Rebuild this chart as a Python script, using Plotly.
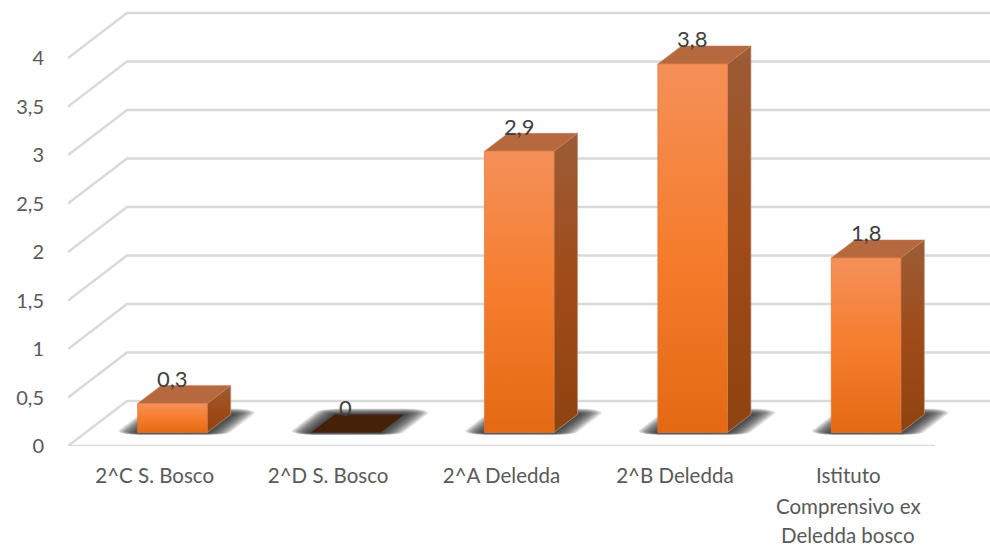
import math
import plotly.graph_objects as go

# ---- data ----
categories = ["2^C S. Bosco", "2^D S. Bosco", "2^A Deledda", "2^B Deledda", "Istituto"]
extra_label_lines = [(4, 1, "Comprensivo ex"), (4, 2, "Deledda bosco")]
values = [0.3, 0, 2.9, 3.8, 1.8]
value_labels = ["0,3", "0", "2,9", "3,8", "1,8"]
tick_values = [0, 0.5, 1, 1.5, 2, 2.5, 3, 3.5, 4]
tick_labels = ["0", "0,5", "1", "1,5", "2", "2,5", "3", "3,5", "4"]

# ---- oblique projection, in axis units ----
W, H = 990, 546
LEFT, FLOOR = 68, 446
PX_X, PX_Y = 173.4, 97.0            # pixels per slot / per value unit
DX, DY = 59 / PX_X, 45 / PX_Y       # shift of full floor depth
D0, D1 = 0.30, 0.70                 # bar depth span
HALF = 34.75 / PX_X
X_MAX = (W - LEFT) / PX_X
FONT = "Lato"
GRID = "#D9D9D9"


def pt(x, v, d):
    return x + d * DX, v + d * DY


def poly(points, **kw):
    xs = [p[0] for p in points] + [points[0][0]]
    ys = [p[1] for p in points] + [points[0][1]]
    return go.Scatter(x=xs, y=ys, mode="lines", fill="toself", hoverinfo="skip", showlegend=False, **kw)


def hull(points):
    pts = sorted(set(points))
    def half(seq):
        out = []
        for p in seq:
            while len(out) > 1 and (out[-1][0] - out[-2][0]) * (p[1] - out[-2][1]) - (out[-1][1] - out[-2][1]) * (p[0] - out[-2][0]) <= 0:
                out.pop()
            out.append(p)
        return out[:-1]
    return half(pts) + half(pts[::-1])


fig = go.Figure()

# gridlines: wall + side wall
for v in tick_values:
    p0 = pt(0, v, 0)
    p1 = pt(0, v, 1)
    fig.add_trace(go.Scatter(x=[p0[0], p1[0], X_MAX + 1], y=[p0[1], p1[1], p1[1]], mode="lines",
                             line=dict(color=GRID, width=2.4), hoverinfo="skip", showlegend=False))
# front floor edge
fig.add_trace(go.Scatter(x=[0, 5], y=[0, 0], mode="lines", line=dict(color=GRID, width=2.6),
                         hoverinfo="skip", showlegend=False))

# soft floor shadows: stacked outsets of each bar footprint
LAYERS = 14
for i in range(5):
    cx = i + 0.5
    base = [pt(cx - HALF, 0, D0), pt(cx + HALF, 0, D0), pt(cx + HALF, 0, D1), pt(cx - HALF, 0, D1)]
    for k in range(LAYERS):
        f = 1 - k / (LAYERS - 1)
        rx, ry = (1 + 21 * f) / PX_X, (0.5 + 3.8 * f) / PX_Y
        sx, sy = 2.5 * f / PX_X, 1.7 * f / PX_Y
        ring = [(bx + sx + rx * math.cos(a * math.pi / 8), by + sy + ry * math.sin(a * math.pi / 8))
                for bx, by in base for a in range(16)]
        fig.add_trace(poly(hull(ring), line=dict(width=0), fillcolor="rgba(40,40,40,0.12)"))

# bars
front_scale = [[0, "#E46913"], [0.5, "#F57D2D"], [1, "#F59059"]]
side_scale = [[0, "#8E4310"], [0.5, "#A04B19"], [1, "#9C5C36"]]
for i, v in enumerate(values):
    cx = i + 0.5
    l, r = cx - HALF, cx + HALF
    if v == 0:
        fig.add_trace(poly([pt(l, 0, D0), pt(r, 0, D0), pt(r, 0, D1), pt(l, 0, D1)],
                           line=dict(width=0), fillcolor="#45210A"))
        continue
    fig.add_trace(poly([pt(r, 0, D0), pt(r, 0, D1), pt(r, v, D1), pt(r, v, D0)],
                       line=dict(width=0.8, color="rgba(190,150,125,0.9)"),
                       fillgradient=dict(type="vertical", colorscale=side_scale)))
    fig.add_trace(poly([pt(l, v, D0), pt(r, v, D0), pt(r, v, D1), pt(l, v, D1)],
                       line=dict(width=0.6, color="rgba(200,130,90,0.8)"), fillcolor="#B6683F"))
    fig.add_trace(poly([pt(l, 0, D0), pt(r, 0, D0), pt(r, v, D0), pt(l, v, D0)],
                       line=dict(width=0.8, color="rgba(225,120,60,0.9)"),
                       fillgradient=dict(type="vertical", colorscale=front_scale)))

# data labels
for i, v in enumerate(values):
    x, y = pt(i + 0.5, v, D0)
    fig.add_annotation(x=x, y=y, xref="x", yref="y", text=value_labels[i], showarrow=False,
                       yshift=25, xanchor="center", yanchor="middle",
                       font=dict(family=FONT, size=22, color="#404040"))

for slot, line, txt in extra_label_lines:
    fig.add_annotation(x=slot + 0.5, y=0, xref="x", yref="y", text=txt, showarrow=False,
                       yshift=-(30 + 29.5 * line), xanchor="center", yanchor="middle",
                       font=dict(family=FONT, size=20.5, color="#595959"))

fig.update_layout(
    width=W, height=H, margin=dict(l=0, r=0, t=0, b=0),
    paper_bgcolor="white", plot_bgcolor="white", showlegend=False,
    xaxis=dict(domain=[LEFT / W, 1], range=[0, X_MAX], tickmode="array", automargin=False,
               tickvals=[i + 0.5 for i in range(5)], ticktext=categories,
               ticks="outside", ticklen=11, tickcolor="rgba(0,0,0,0)", showgrid=False, zeroline=False,
               showline=False, tickfont=dict(family=FONT, size=20.5, color="#595959")),
    yaxis=dict(domain=[(H - FLOOR) / H, 1], range=[0, FLOOR / PX_Y], tickmode="array", automargin=False,
               tickvals=tick_values, ticktext=tick_labels,
               ticks="outside", ticklen=19, tickcolor="rgba(0,0,0,0)", showgrid=False, zeroline=False,
               showline=False, tickfont=dict(family=FONT, size=20, color="#595959")),
)
fig.write_html("out.html", config={"displayModeBar": False}, post_script="document.body.style.margin='0';")
